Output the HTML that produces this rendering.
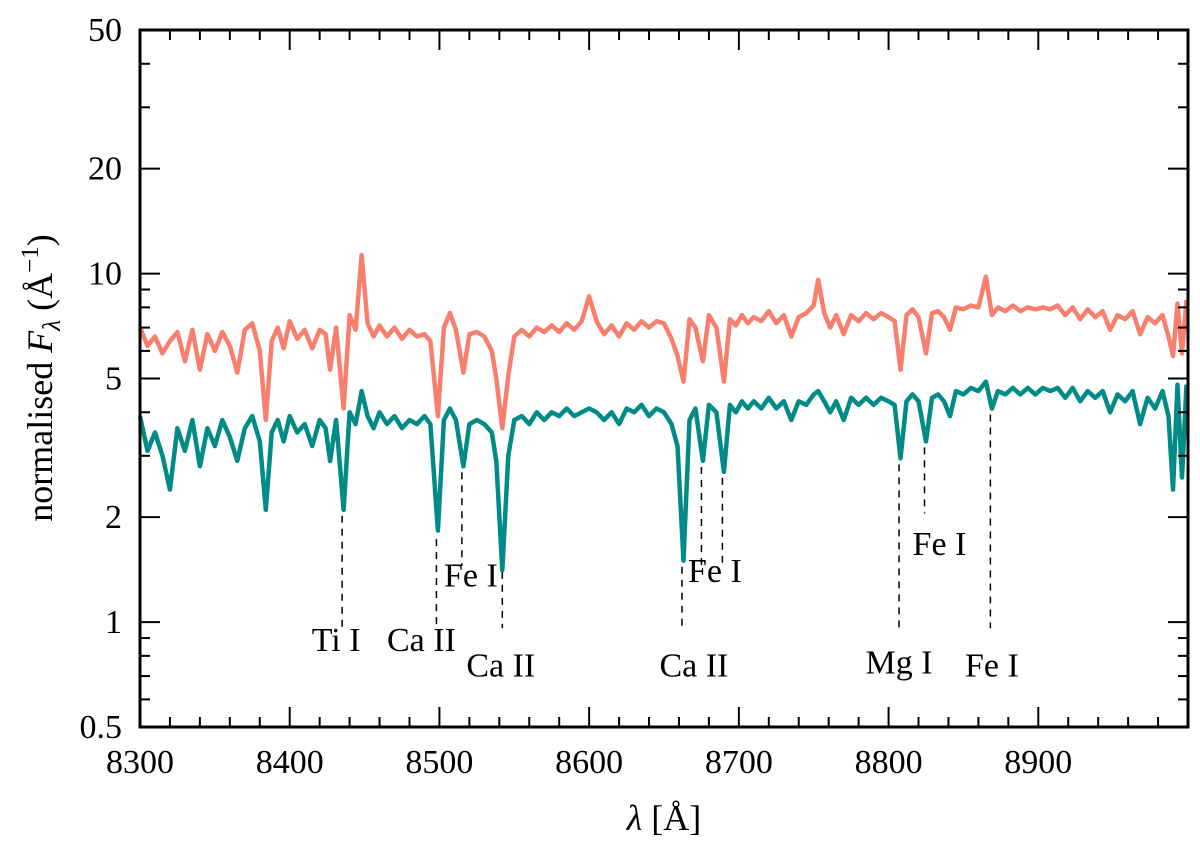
<!DOCTYPE html>
<html><head><meta charset="utf-8"><style>
html,body{margin:0;padding:0;background:#fff}
svg text{font-family:"Liberation Serif","DejaVu Serif",serif;fill:#000}
</style></head><body>
<svg width="1200" height="839" viewBox="0 0 1200 839">
<g id="plot"></g>
<g id="axes"></g>
<text x="664" y="830" font-size="36" text-anchor="middle"><tspan font-style="italic">λ</tspan> [Å]</text>
<text transform="translate(52,378) rotate(-90)" font-size="36" text-anchor="middle">normalised <tspan font-style="italic">F</tspan><tspan font-style="italic" font-size="25" dy="8">λ</tspan><tspan dy="-8"> (Å</tspan><tspan font-size="25" dy="-14">−1</tspan><tspan dy="14">)</tspan></text>
</svg>
<script>
const wl=[8300,8305,8310,8315,8320,8325,8330,8335,8340,8345,8350,8355,8360,8365,8370,8375,8380,8384,8388,8392,8396,8400,8405,8410,8415,8420,8424,8427,8431,8436,8440,8444,8448,8452,8456,8460,8465,8470,8475,8480,8485,8490,8494,8499,8503,8507,8511,8516,8520,8525,8530,8535,8538,8542,8546,8550,8555,8560,8565,8570,8575,8580,8585,8590,8595,8600,8605,8610,8615,8620,8625,8630,8635,8640,8645,8650,8655,8659,8663,8667,8671,8676,8680,8685,8690,8694,8698,8702,8706,8710,8715,8720,8725,8730,8735,8740,8745,8750,8753,8757,8761,8765,8770,8775,8780,8785,8790,8795,8800,8804,8808,8812,8816,8820,8825,8829,8833,8837,8841,8845,8850,8855,8860,8865,8869,8873,8878,8883,8888,8893,8898,8903,8908,8913,8918,8923,8928,8933,8938,8943,8948,8953,8958,8963,8968,8973,8978,8983,8987,8990,8993,8996,8999];
const teal=[3.9,3.1,3.5,3.0,2.4,3.6,3.1,3.8,2.8,3.6,3.2,3.8,3.4,2.9,3.6,3.9,3.3,2.1,3.5,3.8,3.3,3.9,3.5,3.7,3.2,3.8,3.6,2.9,3.8,2.1,4.0,3.7,4.6,3.9,3.6,4.0,3.7,3.9,3.6,3.8,3.7,3.9,3.7,1.83,3.8,4.1,3.8,2.8,3.7,3.8,3.7,3.5,2.9,1.41,3.0,3.8,3.9,3.7,4.0,3.8,4.0,3.9,4.1,3.9,4.0,4.1,4.0,3.8,4.0,3.7,4.1,4.0,4.2,3.9,4.1,4.0,3.7,3.2,1.5,3.8,4.1,2.9,4.2,4.0,2.7,4.2,4.0,4.3,4.1,4.3,4.1,4.4,4.1,4.3,3.8,4.3,4.2,4.5,4.6,4.3,4.0,4.3,3.8,4.4,4.2,4.4,4.2,4.4,4.3,4.2,2.95,4.3,4.5,4.3,3.3,4.4,4.5,4.3,3.9,4.6,4.5,4.7,4.6,4.9,4.1,4.6,4.5,4.7,4.5,4.7,4.5,4.7,4.6,4.7,4.4,4.7,4.3,4.6,4.4,4.6,4.0,4.5,4.3,4.6,3.7,4.4,4.1,4.6,3.9,2.4,4.8,2.6,4.8];
const red=[7.0,6.2,6.6,5.9,6.4,6.8,5.6,6.9,5.3,6.7,6.0,6.8,6.2,5.2,6.9,7.2,6.0,3.8,6.4,7.0,6.1,7.3,6.5,6.9,6.1,6.9,6.7,5.3,7.0,4.1,7.6,6.9,11.3,7.2,6.6,7.1,6.6,7.0,6.5,6.9,6.6,6.7,6.4,3.9,7.0,7.7,6.9,5.2,6.7,6.8,6.6,6.0,5.0,3.6,5.1,6.6,6.9,6.6,7.0,6.8,7.1,6.8,7.2,6.9,7.3,8.6,7.3,6.7,7.1,6.6,7.2,6.9,7.3,7.0,7.3,7.2,6.5,5.8,4.9,7.4,7.0,5.6,7.6,7.0,4.9,7.4,7.1,7.6,7.2,7.5,7.3,7.8,7.2,7.6,6.6,7.5,7.7,8.1,9.6,7.7,7.0,7.6,6.7,7.6,7.3,7.7,7.4,7.7,7.5,7.3,5.3,7.6,7.9,7.5,5.9,7.7,7.8,7.5,6.9,8.0,7.9,8.1,8.0,9.8,7.6,8.0,7.8,8.1,7.8,8.0,7.9,8.0,7.9,8.1,7.6,8.0,7.4,7.9,7.5,7.8,6.9,7.6,7.4,7.8,6.7,7.5,7.2,7.6,6.6,5.8,8.2,5.9,8.4];
const xTicks=[8300,8400,8500,8600,8700,8800,8900];
const yTicks=[0.5,1,2,5,10,20,50];
const yTickLabels=["0.5","1","2","5","10","20","50"];
const lineWl=[8435,8498,8515,8542,8662,8675,8689,8807,8824,8868];
const lineTop=[2.1,1.8,2.8,1.45,1.5,2.9,2.7,2.95,3.3,4.1];
const lineBot=[0.96,0.96,1.45,0.96,0.96,1.45,1.45,0.96,2.05,0.96];
const labels=["Ti I","Ca II","Fe I","Ca II","Ca II","Fe I","Mg I","Fe I","Fe I"];
const labelWl=[8431,8488,8521,8541,8670,8684,8807,8834,8869];
const labelVal=[0.87,0.87,1.33,0.735,0.735,1.37,0.75,1.64,0.735];

const X0=140,X1=1188,Y0=30,Y1=727,XMIN=8300,XMAX=9000,YMIN=0.5,YMAX=50;
const sx=v=>X0+(v-XMIN)/(XMAX-XMIN)*(X1-X0);
const sy=v=>Y1-(Math.log10(v)-Math.log10(YMIN))/(Math.log10(YMAX)-Math.log10(YMIN))*(Y1-Y0);
const NS="http://www.w3.org/2000/svg";
const plot=document.getElementById('plot'),axes=document.getElementById('axes');
function mk(tag,attrs,parent){const e=document.createElementNS(NS,tag);for(const k in attrs)e.setAttribute(k,attrs[k]);parent.appendChild(e);return e;}

function series(vals,color,name){
  const d=wl.map((w,i)=>(i?'L':'M')+sx(w).toFixed(1)+','+sy(vals[i]).toFixed(1)).join('');
  const p=mk('path',{d:d,fill:'none',stroke:color,'stroke-width':4.5,'stroke-linejoin':'round'},plot);
  
  
}
series(red,'#f87e6d','spectrum-red');
series(teal,'#008b87','spectrum-teal');

lineWl.forEach((w,i)=>{
  const l=mk('line',{x1:sx(w),x2:sx(w),y1:sy(lineTop[i])+6,y2:sy(lineBot[i]),stroke:'#000','stroke-width':1.5,'stroke-dasharray':'7,6'},plot);
  
  
});
labels.forEach((t,i)=>{
  const e=mk('text',{x:sx(labelWl[i]),y:sy(labelVal[i]),'font-size':34,'text-anchor':'middle','dominant-baseline':'middle'},plot);
  e.textContent=t;
  
  
});

const frame=mk('rect',{x:X0,y:Y0,width:X1-X0,height:Y1-Y0,fill:'none',stroke:'#000','stroke-width':3},axes);


for(let v=8300;v<9000;v+=20){
  const major=(v%100===0),len=major?20:10;
  mk('line',{x1:sx(v),x2:sx(v),y1:Y1,y2:Y1-len,stroke:'#000','stroke-width':2},axes);
  mk('line',{x1:sx(v),x2:sx(v),y1:Y0,y2:Y0+len,stroke:'#000','stroke-width':2},axes);
}
xTicks.forEach(v=>{
  const e=mk('text',{x:sx(v),y:Y1+46,'font-size':34,'text-anchor':'middle'},axes);
  e.textContent=String(v);
  
  
});
const minorY=[0.6,0.7,0.8,0.9,3,4,6,7,8,9,30,40];
minorY.forEach(v=>{
  mk('line',{x1:X0,x2:X0+10,y1:sy(v),y2:sy(v),stroke:'#000','stroke-width':2},axes);
  mk('line',{x1:X1,x2:X1-10,y1:sy(v),y2:sy(v),stroke:'#000','stroke-width':2},axes);
});
yTicks.forEach((v,i)=>{
  mk('line',{x1:X0,x2:X0+20,y1:sy(v),y2:sy(v),stroke:'#000','stroke-width':2},axes);
  mk('line',{x1:X1,x2:X1-20,y1:sy(v),y2:sy(v),stroke:'#000','stroke-width':2},axes);
  const e=mk('text',{x:X0-18,y:sy(v)+11,'font-size':34,'text-anchor':'end'},axes);
  e.textContent=yTickLabels[i];
  
  
});
</script>
</body></html>
